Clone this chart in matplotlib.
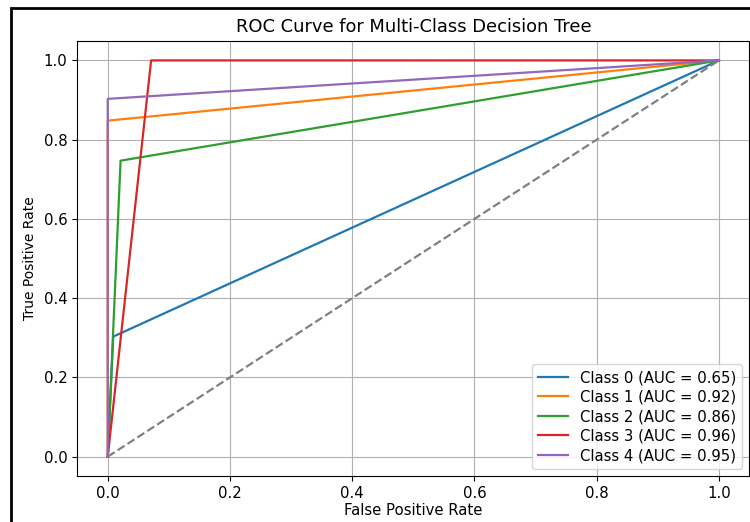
import matplotlib
matplotlib.use("Agg")
import matplotlib.pyplot as plt
from matplotlib.patches import Rectangle

class_names = ["Class 0", "Class 1", "Class 2", "Class 3", "Class 4"]
fpr = [
    [0.0, 0.009, 1.0],
    [0.0, 0.0, 1.0],
    [0.0, 0.021, 1.0],
    [0.0, 0.071, 1.0],
    [0.0, 0.0, 1.0],
]
tpr = [
    [0.0, 0.303, 1.0],
    [0.0, 0.848, 1.0],
    [0.0, 0.747, 1.0],
    [0.0, 1.0, 1.0],
    [0.0, 0.903, 1.0],
]
auc_values = [0.65, 0.92, 0.86, 0.96, 0.95]

plt.rcParams["font.size"] = 10.75

fig = plt.figure(figsize=(7.5, 5.22), dpi=100)
ax = fig.add_axes([0.1029, 0.0872, 0.8964, 0.835])

for name, fx, ty, auc in zip(class_names, fpr, tpr, auc_values):
    ax.plot(fx, ty, lw=1.6, label=f"{name} (AUC = {auc:.2f})")

ax.plot([0, 1], [0, 1], color="gray", linestyle="--", lw=1.6)
ax.set_xlim(-0.05, 1.05)
ax.set_ylim(-0.05, 1.05)
ax.set_xlabel("False Positive Rate", labelpad=1.5)
ax.set_ylabel("True Positive Rate", fontsize=10, labelpad=5)
ax.set_title("ROC Curve for Multi-Class Decision Tree", fontsize=12.9)
ax.grid(True)
ax.legend(loc="lower right", labelspacing=0.3)

# Figure border
fig.patches.append(Rectangle((11 / 750, -0.1), 1.2, (522 - 8) / 522 + 0.1,
                             transform=fig.transFigure, fill=False,
                             edgecolor="black", lw=2, clip_on=False))

fig.savefig("out.png", dpi=100)
